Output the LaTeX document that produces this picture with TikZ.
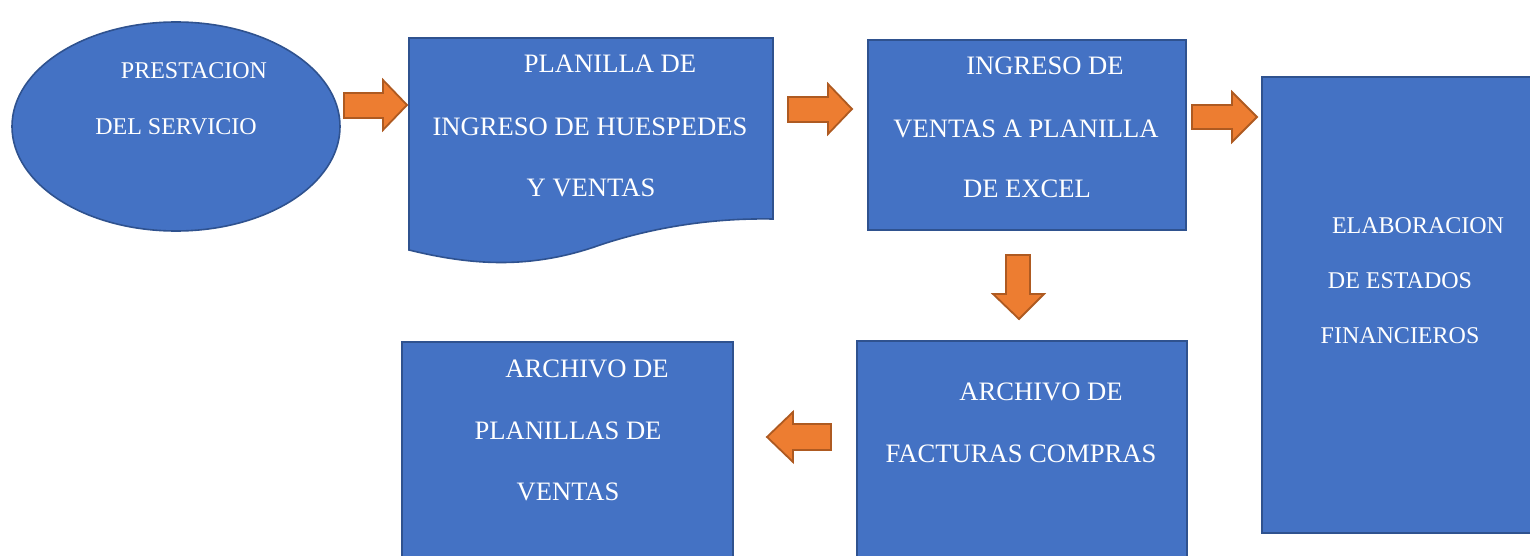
\documentclass[tikz,border=0pt]{standalone}
\usepackage{fontspec}
\setmainfont{Liberation Serif}
\usetikzlibrary{shapes.geometric}
\definecolor{boxblue}{HTML}{4472C4}
\definecolor{boxline}{HTML}{2F528F}
\definecolor{arrfill}{HTML}{ED7D31}
\definecolor{arrline}{HTML}{AE5A21}
\begin{document}
\begin{tikzpicture}[x=0.5pt,y=-0.5pt,
  shapebox/.style={fill=boxblue,draw=boxline,line width=0.8pt,inner sep=0pt},
  blockarrow/.style={fill=arrfill,draw=arrline,line width=0.9pt,line join=miter},
  bigtxt/.style={text=white,anchor=base,inner sep=0pt,font=\fontsize{13.3}{16}\selectfont},
  smalltxt/.style={text=white,anchor=base,inner sep=0pt,font=\fontsize{12}{14}\selectfont}]
\useasboundingbox (0,0) rectangle (1530,556);
\clip (0,0) rectangle (1530,556);
% shapes
\node[shapebox,ellipse,minimum width=164pt,minimum height=104.5pt] (prest) at (176,126.5) {};
\draw[shapebox] (409,38) -- (773,38) -- (773,219)
  .. controls (720,218) and (660,225) .. (600,245)
  .. controls (530,270) and (470,265) .. (409,250) -- cycle;
\coordinate (planilla) at (591,140);
\node[shapebox,rectangle,minimum width=159pt,minimum height=95pt] (ingreso) at (1027,135) {};
\node[shapebox,rectangle,minimum width=137pt,minimum height=228pt] (elab) at (1399,305) {};
\node[shapebox,rectangle,minimum width=165pt,minimum height=112.5pt] (factur) at (1022,453.5) {};
\node[shapebox,rectangle,minimum width=165.5pt,minimum height=112pt] (archv) at (567.5,454) {};
% texts
\node[smalltxt] (t1a) at (194,79) {PRESTACION};
\node[smalltxt] (t1b) at (176,134) {DEL SERVICIO};
\node[bigtxt] (t2a) at (610,73) {PLANILLA DE};
\node[bigtxt] (t2b) at (590,135) {INGRESO DE HUESPEDES};
\node[bigtxt] (t2c) at (591,196) {Y VENTAS};
\node[bigtxt] (t3a) at (1045,75) {INGRESO DE};
\node[bigtxt] (t3b) at (1026,137) {VENTAS A PLANILLA};
\node[bigtxt] (t3c) at (1027,197) {DE EXCEL};
\node[smalltxt] (t4a) at (1418,233) {ELABORACION};
\node[smalltxt] (t4b) at (1400,288) {DE ESTADOS};
\node[smalltxt] (t4c) at (1400,343) {FINANCIEROS};
\node[bigtxt] (t5a) at (1041,400) {ARCHIVO DE};
\node[bigtxt] (t5b) at (1021,462) {FACTURAS COMPRAS};
\node[bigtxt] (t6a) at (587,377) {ARCHIVO DE};
\node[bigtxt] (t6b) at (568,439) {PLANILLAS DE};
\node[bigtxt] (t6c) at (568,500) {VENTAS};
% block arrows
\draw[blockarrow] (344,93) -- (383,93) -- (383,80) -- (407,105) -- (383,130) -- (383,118) -- (344,118) -- cycle;
\draw[blockarrow] (788,97) -- (828,97) -- (828,84) -- (852,109) -- (828,134) -- (828,122) -- (788,122) -- cycle;
\draw[blockarrow] (1192,105) -- (1232,105) -- (1232,92) -- (1257,117) -- (1232,142) -- (1232,129) -- (1192,129) -- cycle;
\draw[blockarrow] (1006,255) -- (1030,255) -- (1030,294) -- (1044,294) -- (1019,319) -- (993,294) -- (1006,294) -- cycle;
\draw[blockarrow] (831,424) -- (793,424) -- (793,412) -- (767,437) -- (793,462) -- (793,450) -- (831,450) -- cycle;
\end{tikzpicture}
\end{document}
